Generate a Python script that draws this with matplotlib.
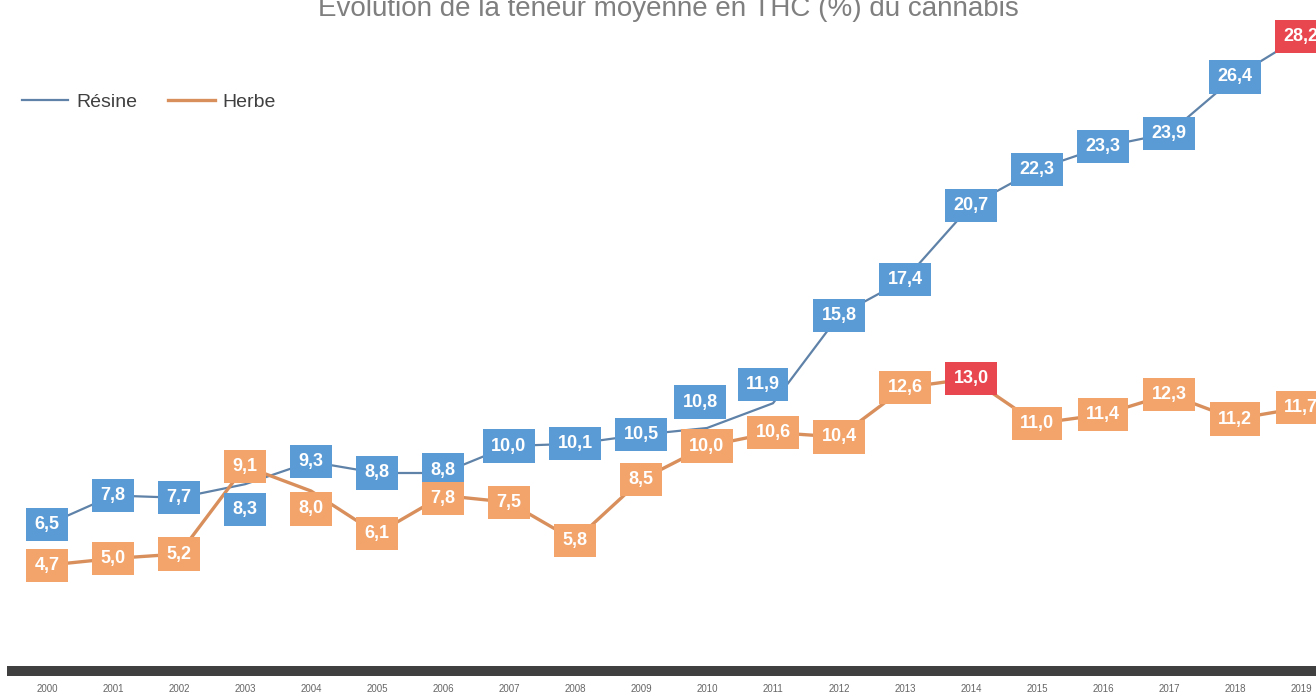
import numpy as np
import matplotlib
matplotlib.use("Agg")
import matplotlib.pyplot as plt

years = list(range(2000, 2020))
resine = [6.5, 7.8, 7.7, 8.3, 9.3, 8.8, 8.8, 10.0, 10.1, 10.5,
          10.8, 11.9, 15.8, 17.4, 20.7, 22.3, 23.3, 23.9, 26.4, 28.2]
herbe = [4.7, 5.0, 5.2, 9.1, 8.0, 6.1, 7.8, 7.5, 5.8, 8.5,
         10.0, 10.6, 10.4, 12.6, 13.0, 11.0, 11.4, 12.3, 11.2, 11.7]
series_names = ["Résine", "Herbe"]
title = "Évolution de la teneur moyenne en THC (%) du cannabis"

# label nudges (pixels) where boxes would collide
resine_shift = {2003: (0, -25), 2006: (0, 3), 2010: (-7, 26), 2011: (-10, 19)}
herbe_shift = {2004: (0, -18), 2006: (0, -3)}

plt.rcParams['font.family'] = ['Liberation Sans', 'DejaVu Sans']

box_blue = '#5b9bd5'
box_orange = '#f2a46b'
box_red = '#e8474f'
line_blue = '#5f82a8'
line_orange = '#d98f5c'

fig = plt.figure(figsize=(13.16, 7), dpi=100)
ax = fig.add_axes([12/1316, 29/700, 1322/1316, 671/700])
ax.set_xlim(1999.47, 2019.5)
ax.set_ylim(0, 671/22.5)

ax.plot(years, resine, color=line_blue, lw=1.6, label=series_names[0], zorder=2)
ax.plot(years, herbe, color=line_orange, lw=2.4, label=series_names[1], zorder=2)


def put_labels(vals, base, shifts, z):
	top = int(np.argmax(vals))
	for i, (yr, v) in enumerate(zip(years, vals)):
		dx, dy = shifts.get(yr, (0, 0))
		fc = box_red if i == top else base
		ax.annotate(f"{v:.1f}".replace('.', ','), (yr, v), xytext=(dx, dy),
			textcoords='offset pixels', ha='center', va='center',
			fontsize=13, fontweight='bold', color='white', zorder=z,
			bbox=dict(boxstyle='square,pad=0.45', fc=fc, ec='none'))


put_labels(resine, box_blue, resine_shift, 3)
put_labels(herbe, box_orange, herbe_shift, 4)

for s in ['top', 'left', 'right']:
	ax.spines[s].set_visible(False)
ax.spines['bottom'].set_linewidth(7.2)
ax.spines['bottom'].set_color('#404040')
ax.set_yticks([])
ax.set_xticks(years)
ax.tick_params(axis='x', length=0, labelsize=7, labelcolor='#666666', pad=9)

leg = fig.legend(loc='upper left', bbox_to_anchor=(4/1316, 1 - 76/700), ncol=2,
	frameon=False, fontsize=14, handlelength=2.4, columnspacing=1.6, handletextpad=0.4)
for t in leg.get_texts():
	t.set_color('#404040')

fig.text(668/1316, 1 - 16/700, title, ha='center', va='baseline', fontsize=20, color='#7f7f7f')

fig.savefig('out.png', dpi=100)
